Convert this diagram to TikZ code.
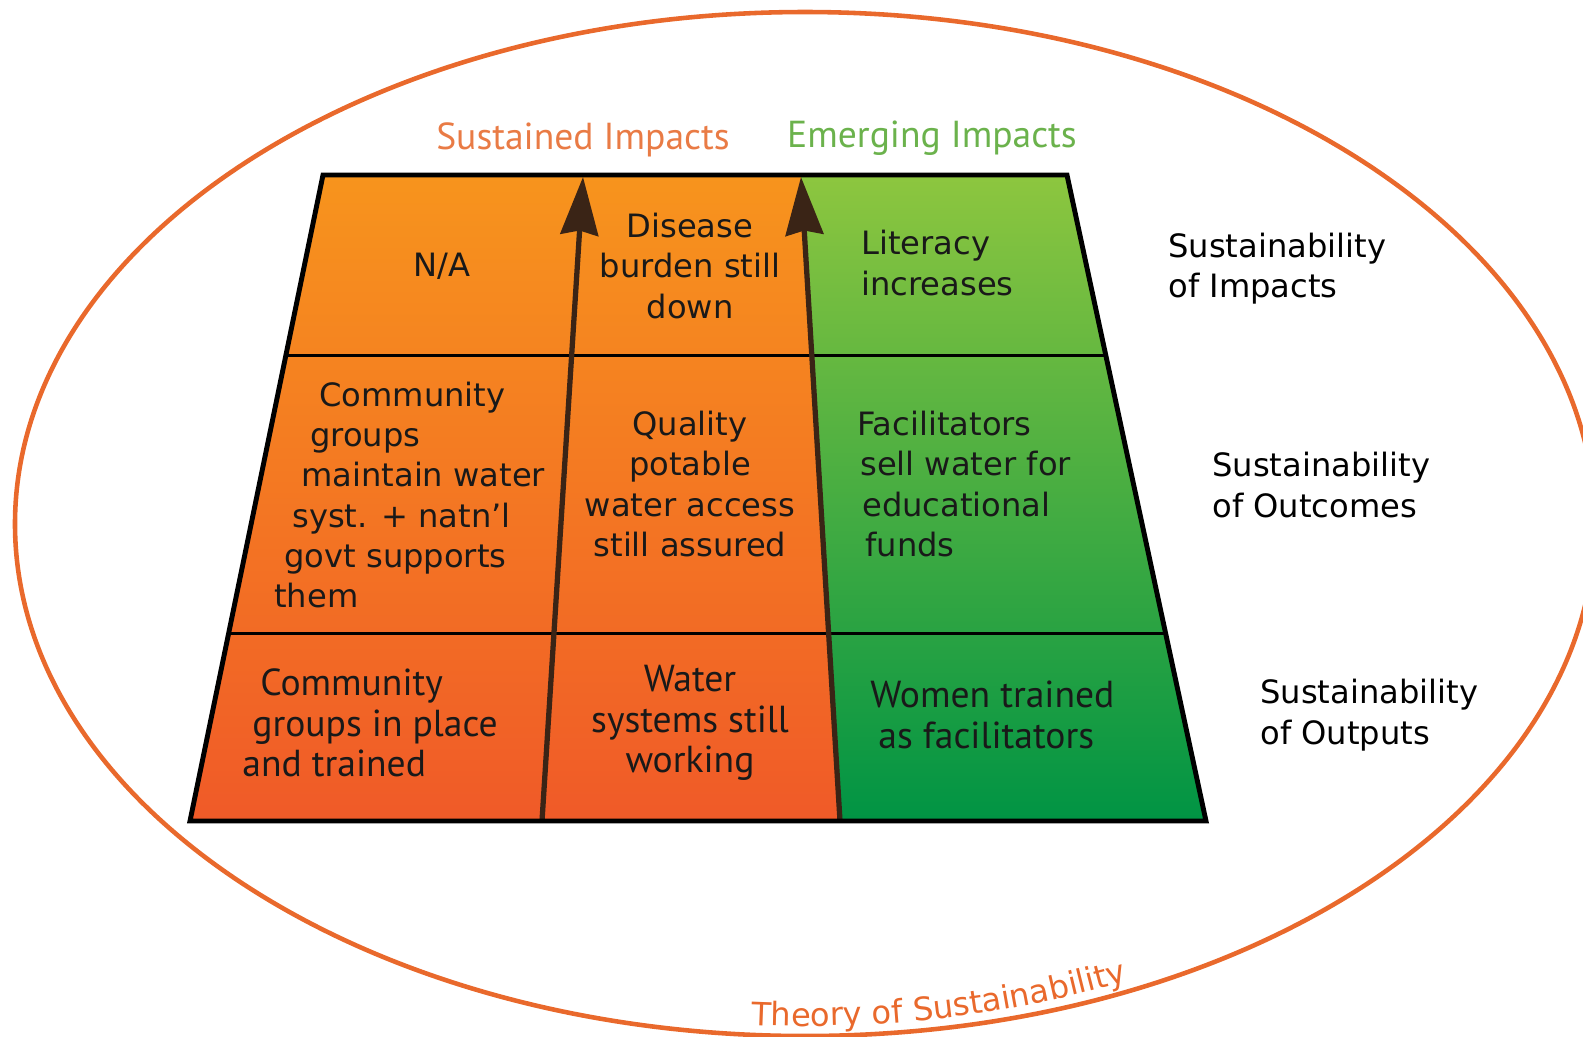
\documentclass[tikz,border=0pt]{standalone}
\usepackage{fontspec}
\setmainfont{DejaVu Sans}
\newfontfamily\narrowfont{PT Sans}
\usetikzlibrary{arrows.meta, calc, decorations.text}

\definecolor{ringorange}{HTML}{E9692C}
\definecolor{sustorange}{HTML}{E97B45}
\definecolor{emerggreen}{HTML}{6BB24C}
\definecolor{orangetop}{HTML}{F7941D}
\definecolor{orangebot}{HTML}{F05A28}
\definecolor{greentop}{HTML}{8DC63F}
\definecolor{greenbot}{HTML}{009444}
\definecolor{stembrown}{HTML}{3A2416}

\newcommand{\widetext}{\fontsize{18.3}{22.9}\selectfont}
\newcommand{\narrowtext}{\narrowfont\fontsize{21.4}{22.9}\selectfont}

\tikzstyle{cell} = [inner sep=0pt, align=center, font=\widetext, text=black!90]
\tikzstyle{leftcell} = [cell, align=left, anchor=west]
\tikzstyle{slim} = [inner sep=0pt, align=center, font=\narrowtext, text=black!90]
\tikzstyle{leftslim} = [slim, align=left, anchor=west]
\tikzstyle{rowlabel} = [inner sep=0pt, align=left, anchor=west, font=\widetext]
\tikzstyle{heading} = [inner sep=0pt, font=\narrowtext]
\tikzstyle{flowarrow} = [line width=3pt, draw=stembrown, -{Stealth[length=33pt, width=21.5pt, inset=2.5pt]}]
\tikzstyle{divider} = [line width=1.7pt]

\begin{document}
\begin{tikzpicture}[x=0.02cm, y=-0.02cm]
	\useasboundingbox (0,0) rectangle (1583,1036);
	\clip (0,0) rectangle (1583,1036);

	% outer ring
	\draw [ringorange, line width=2.6pt] (805,524) ellipse [x radius=790, y radius=512];
	\path [decorate, decoration={text along path, text align=left,
		text={|\widetext\color{ringorange}|Theory of Sustainability}}]
		(751,1025) arc [start angle=94, end angle=60, x radius=776, y radius=502];

	% frame corners
	\coordinate (tl) at (323,175);
	\coordinate (tr) at (1067,175);
	\coordinate (br) at (1206,821);
	\coordinate (bl) at (190,821);
	% arrow ends
	\coordinate (sb) at (542,821);
	\coordinate (st) at (583,177);
	\coordinate (eb) at (840,821);
	\coordinate (et) at (801,177);
	% row lines meet the sides
	\coordinate (l1) at ($(tl)!0.279!(bl)$);
	\coordinate (r1) at ($(tr)!0.279!(br)$);
	\coordinate (l2) at ($(tl)!0.709!(bl)$);
	\coordinate (r2) at ($(tr)!0.709!(br)$);

	\shade [top color=orangetop, bottom color=orangebot] (tl) -- (et) -- (eb) -- (bl) -- cycle;
	\shade [top color=greentop, bottom color=greenbot] (et) -- (tr) -- (br) -- (eb) -- cycle;
	\draw [divider] (l1) -- (r1);
	\draw [divider] (l2) -- (r2);
	\draw [flowarrow] (sb) -- (st);
	\draw [flowarrow] (eb) -- (et);
	\draw [line width=2.8pt] (tl) -- (tr) -- (br) -- (bl) -- cycle;

	% column headings
	\node (sust) [heading, text=sustorange] at (583,140) {Sustained Impacts};
	\node (emerg) [heading, text=emerggreen] at (932,138) {Emerging Impacts};

	% impacts
	\node (na) [cell] at (442,266) {N/A};
	\node (disease) [cell] at (690,266) {Disease\\burden still\\down};
	\node (literacy) [leftcell] at (861,263) {Literacy\\increases};
	\node (simpacts) [rowlabel] at (1168,269) {Sustainability\\of Impacts};

	% outcomes
	\node (groups) [leftcell] at (274,495) {\hspace*{9mm}Community\\\hspace*{7.2mm}groups\\\hspace*{5.4mm}maintain water\\\hspace*{3.6mm}syst. + natn'l\\\hspace*{2mm}govt supports\\them};
	\node (quality) [cell] at (690,484) {Quality\\potable\\water access\\still assured};
	\node (facil) [leftcell] at (857,484) {Facilitators\\\hspace*{0.6mm}sell water for\\\hspace*{1mm}educational\\\hspace*{1.6mm}funds};
	\node (soutcomes) [rowlabel] at (1212,485) {Sustainability\\of Outcomes};

	% outputs
	\node (inplace) [leftslim] at (242,723) {\hspace*{3.6mm}Community\\\hspace*{2mm}groups in place\\and trained};
	\node (water) [slim] at (690,723) {Water\\systems still\\working};
	\node (women) [leftslim] at (870,715) {Women trained\\\hspace*{1.6mm}as facilitators};
	\node (soutputs) [rowlabel] at (1260,715) {Sustainability\\of Outputs};
\end{tikzpicture}
\end{document}
